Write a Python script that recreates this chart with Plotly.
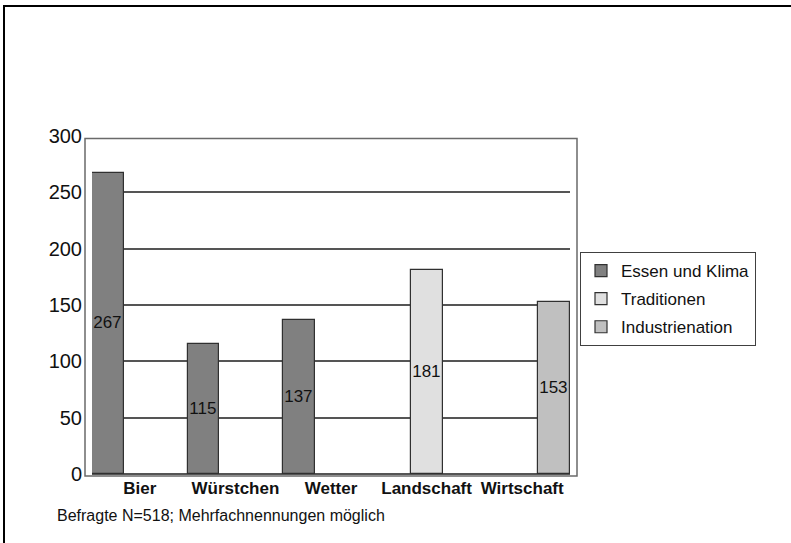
import plotly.graph_objects as go

categories = ["Bier", "Würstchen", "Wetter", "Landschaft", "Wirtschaft"]
series_names = ["Essen und Klima", "Traditionen", "Industrienation"]
essen_klima = [267, 115, 137, None, None]
traditionen = [None, None, None, 181, None]
industrienation = [None, None, None, None, 153]
y_ticks = [0, 50, 100, 150, 200, 250, 300]
footnote = "Befragte N=518; Mehrfachnennungen möglich"

colors = ["#808080", "#e0e0e0", "#c0c0c0"]
values = [essen_klima, traditionen, industrienation]

W, H = 791, 543
L, R, T, B = 92, 570, 136, 474  # plot area in pixels
pw, ph = R - L, B - T


def px(x):
    return (x - L) / pw


def py(y):
    return (B - y) / ph


fig = go.Figure()
for name, vals, col in zip(series_names, values, colors):
    fig.add_trace(go.Bar(
        x=categories, y=vals, name=name, legendgroup=name,
        marker=dict(color=col, line=dict(color="#303030", width=1.2)),
        text=[str(v) if v is not None else "" for v in vals],
        textposition="inside", insidetextanchor="middle",
        constraintext="none",
        textfont=dict(family="Liberation Sans, Arial", size=17, color="#111111"),
        textangle=0, cliponaxis=False,
    ))

shapes = [
    # chart frame
    dict(type="rect", xref="paper", yref="paper",
         x0=px(85), x1=px(577), y0=py(476), y1=py(138.5),
         line=dict(color="#6a6a6a", width=1.5), layer="below"),
    # outer border (top and left only visible)
    dict(type="line", xref="paper", yref="paper",
         x0=px(3), x1=px(791), y0=py(6), y1=py(6),
         line=dict(color="black", width=2)),
    dict(type="line", xref="paper", yref="paper",
         x0=px(4), x1=px(4), y0=py(5), y1=py(543),
         line=dict(color="black", width=2)),
]

fig.update_layout(
    width=W, height=H,
    margin=dict(l=L, r=W - R, t=T, b=H - B, pad=0),
    paper_bgcolor="white", plot_bgcolor="white",
    barmode="group", bargap=0, bargroupgap=0,
    font=dict(family="Liberation Sans, Arial", color="#111111"),
    xaxis=dict(range=[-0.5, 4.5], showgrid=False, zeroline=False,
               showline=False, ticks="",
               tickfont=dict(size=17, family="Liberation Sans, Arial", weight="bold"),
               ticklabelstandoff=2),
    yaxis=dict(range=[0, 300], tickvals=y_ticks, showgrid=True,
               gridcolor="#555555", gridwidth=1.5, zeroline=True,
               zerolinecolor="#555555", zerolinewidth=1.5,
               showline=False, ticks="",
               tickfont=dict(size=20, family="Liberation Sans, Arial"),
               ticklabelstandoff=9),
    legend=dict(x=px(580), y=py(252), xanchor="left", yanchor="top",
                bordercolor="#404040", borderwidth=1, bgcolor="white",
                font=dict(size=17, family="Liberation Sans, Arial"),
                traceorder="grouped", tracegroupgap=3,
                itemwidth=30),
    shapes=shapes,
    annotations=[dict(text=footnote, xref="paper", yref="paper",
                      x=px(55), y=py(515), xanchor="left", yanchor="middle",
                      showarrow=False,
                      font=dict(size=16, family="Liberation Sans, Arial"))],
)

fig.write_html("out.html")
